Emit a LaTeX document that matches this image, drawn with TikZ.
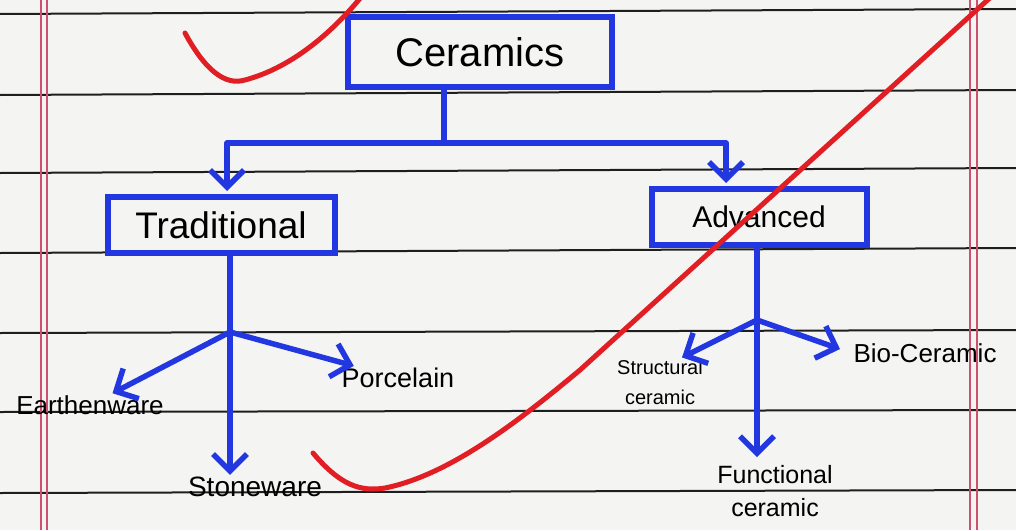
\documentclass[tikz,border=0pt]{standalone}
\usepackage{fontspec}
\setmainfont{Liberation Sans}
\usetikzlibrary{arrows.meta}
\definecolor{ink}{RGB}{35,55,225}
\definecolor{redpen}{RGB}{225,30,35}
\definecolor{ruleink}{RGB}{30,30,30}
\definecolor{marginred}{RGB}{205,80,110}
\definecolor{paper}{RGB}{244,244,242}
\begin{document}
\begin{tikzpicture}[x=1pt,y=-1pt,
  box/.style={draw=ink, line width=6pt, rectangle, inner sep=0pt, text=black},
  lbl/.style={text=black, align=center, inner sep=2pt},
  link/.style={draw=ink, line width=5.5pt, line cap=round, line join=round},
  arr/.style={link, -{Straight Barb[length=17pt,width=34pt]}},
  ruleline/.style={draw=ruleink, line width=2pt},
  marginline/.style={draw=marginred, line width=1.4pt},
  redtick/.style={draw=redpen, line width=5pt, line cap=round}]
\fill[paper] (0,0) rectangle (1016,530);
\useasboundingbox (0,0) rectangle (1016,530);
% ruled paper
\foreach \l/\r in {14/9,95/90,173/168,253/248,333/330,412/410,493/490}
  \draw[ruleline] (0,\l) -- (1016,\r);
\draw[marginline] (41,0) -- (41,530);
\draw[marginline] (47,0) -- (47,530);
\draw[marginline] (970,0) -- (970,530);
\draw[marginline] (977,0) -- (977,530);
% boxes
\node[box, minimum width=264pt, minimum height=70pt, font=\fontsize{40}{44}\selectfont] (cer) at (480,52) {Ceramics};
\node[box, minimum width=227pt, minimum height=56pt, font=\fontsize{37}{40}\selectfont] (trad) at (221,225) {Traditional};
\node[box, minimum width=215pt, minimum height=56pt, font=\fontsize{30}{34}\selectfont] (adv) at (759,217) {Advanced};
% leaves
\node[lbl, font=\fontsize{26}{30}\selectfont] (earth) at (90,405) {Earthenware};
\node[lbl, font=\fontsize{27}{30}\selectfont] (porc) at (398,378) {Porcelain};
\node[lbl, font=\fontsize{28}{30}\selectfont] (stone) at (255,487) {Stoneware};
\node[lbl, font=\fontsize{20}{30}\selectfont] (struct) at (660,382) {Structural\\ceramic};
\node[lbl, font=\fontsize{26}{30}\selectfont] (bio) at (925,353) {Bio-Ceramic};
\node[lbl, font=\fontsize{25}{33}\selectfont] (func) at (775,491) {Functional\\ceramic};
% junctions
\coordinate (j0) at (444,143);
\coordinate (jl) at (227,143);
\coordinate (jr) at (726,143);
\coordinate (tj) at (230,332);
\coordinate (aj) at (757,320);
% connectors
\draw[link] (cer.south -| j0) -- (j0);
\draw[arr, shorten >=3pt] (j0) -- (jl) -- (jl |- trad.north);
\draw[arr, shorten >=3pt] (j0) -- (jr) -- (jr |- adv.north);
\draw[link] (trad.south -| tj) -- (tj);
\draw[arr] (tj) -- (earth);
\draw[arr] (tj) -- (porc);
\draw[arr] (tj) -- (tj |- stone.north);
\draw[link] (adv.south -| aj) -- (aj);
\draw[arr] (aj) -- ([xshift=22pt]struct.north);
\draw[arr, shorten >=12pt] (aj) -- (bio.west);
\draw[arr, shorten >=6pt] (aj) -- (aj |- func.north);
% red teacher marks
\draw[redtick] (185,33) .. controls (205,70) and (225,86) .. (245,80) .. controls (290,68) and (330,35) .. (362,-4);
\draw[redtick] (313,453) .. controls (340,485) and (360,492) .. (385,488) .. controls (450,475) and (520,420) .. (580,370) -- (992,-4);
\end{tikzpicture}
\end{document}
